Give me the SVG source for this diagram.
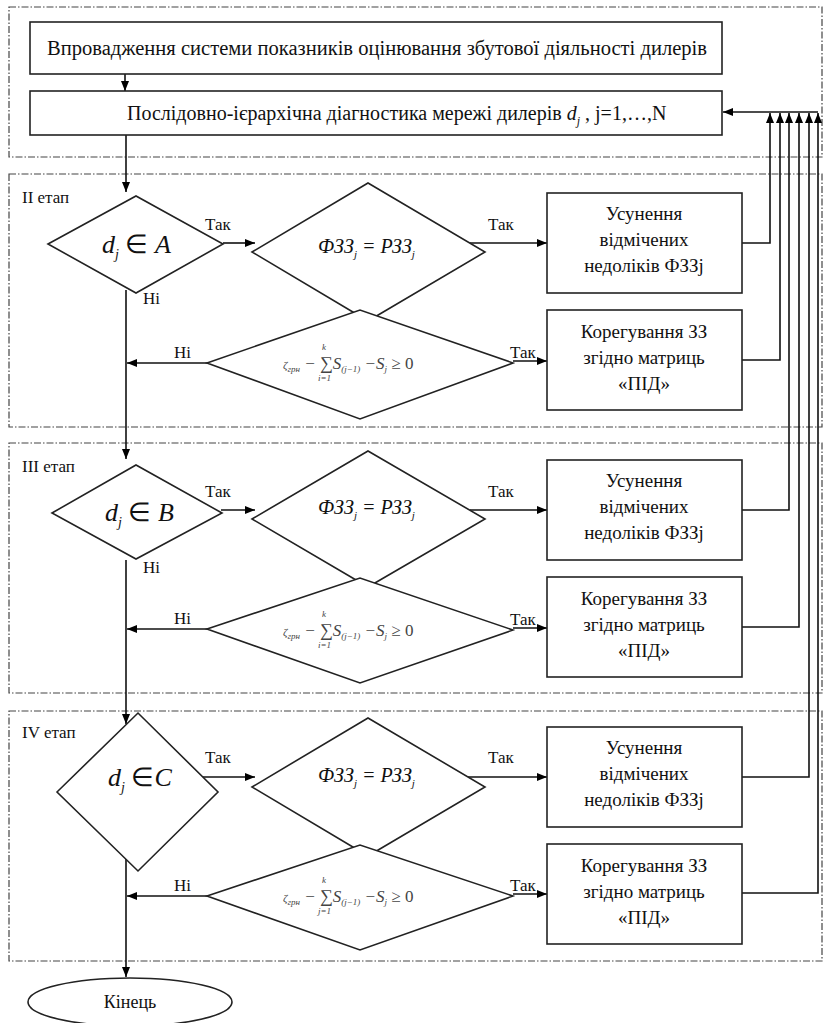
<svg xmlns="http://www.w3.org/2000/svg" width="825" height="1023" viewBox="0 0 825 1023" font-family="'Liberation Serif', 'Times New Roman', serif">
<defs>
<marker id="ah" markerUnits="userSpaceOnUse" markerWidth="10" markerHeight="8" refX="10" refY="4" orient="auto">
<path d="M0,0 L10,4 L0,8 z" fill="#000"/>
</marker>
<style>
.stage{fill:none;stroke:#444;stroke-width:1.2;stroke-dasharray:7,2,1.5,2}
.box{fill:#fff;stroke:#222;stroke-width:1.6}
.dia{fill:#fff;stroke:#222;stroke-width:1.6}
.arr{fill:none;stroke:#111;stroke-width:1.6;marker-end:url(#ah)}
text{font-family:'Liberation Serif','Times New Roman',serif;fill:#111}
.t{font-size:20px}
.bt{font-size:19px;text-anchor:middle}
.lbl{font-size:17px}
.it{font-style:italic}
.f{font-size:17px;font-style:italic;fill:#444}
.fs{font-size:9px;font-style:italic;fill:#444}
</style>
</defs>
<rect width="825" height="1023" fill="#fff"/>

<g id="stages">
<rect class="stage" x="9" y="7" width="813" height="150"/>
<rect class="stage" x="9" y="174" width="813" height="253"/>
<rect class="stage" x="9" y="443" width="813" height="250"/>
<rect class="stage" x="9" y="711" width="813" height="250"/>
<text class="lbl" x="22" y="203">II етап</text>
<text class="lbl" x="22" y="472">III етап</text>
<text class="lbl" x="22" y="738">IV етап</text>
</g>

<g id="connectors">
<path class="arr" d="M125,74 V91"/>
<path class="arr" d="M126,135 V192"/>
<path class="arr" d="M126,290 V459"/>
<path class="arr" d="M126,560 V724"/>
<path class="arr" d="M126,859 V977"/>
<path class="arr" d="M223,243 H255"/>
<path class="arr" d="M470,243 H547"/>
<path class="arr" d="M363,296 V309"/>
<path class="arr" d="M513,361 H547"/>
<path class="arr" d="M207,363 H127"/>
<path class="arr" d="M221,510 H255"/>
<path class="arr" d="M470,510 H547"/>
<path class="arr" d="M363,558 V577"/>
<path class="arr" d="M513,628 H547"/>
<path class="arr" d="M207,629 H127"/>
<path class="arr" d="M203,777 H255"/>
<path class="arr" d="M468,777 H547"/>
<path class="arr" d="M363,828 V844"/>
<path class="arr" d="M513,894 H547"/>
<path class="arr" d="M207,896 H127"/>
<path class="arr" d="M742,243 H770 V113"/>
<path class="arr" d="M742,360 H780 V113"/>
<path class="arr" d="M742,510 H789 V113"/>
<path class="arr" d="M742,627 H799 V113"/>
<path class="arr" d="M742,777 H809 V113"/>
<path class="arr" d="M742,893 H818 V113"/>
<path class="arr" d="M818,112 H723"/>
<text class="lbl" x="205" y="230">Так</text>
<text class="lbl" x="488" y="230">Так</text>
<text class="lbl" x="143" y="304">Ні</text>
<text class="lbl" x="174" y="358">Ні</text>
<text class="lbl" x="510" y="358">Так</text>
<text class="lbl" x="205" y="497">Так</text>
<text class="lbl" x="488" y="497">Так</text>
<text class="lbl" x="143" y="573">Ні</text>
<text class="lbl" x="174" y="624">Ні</text>
<text class="lbl" x="510" y="625">Так</text>
<text class="lbl" x="205" y="763">Так</text>
<text class="lbl" x="488" y="763">Так</text>
<text class="lbl" x="174" y="891">Ні</text>
<text class="lbl" x="510" y="891">Так</text>
</g>

<g id="n-start">
<rect class="box" x="30" y="22" width="692" height="52"/>
<text class="t" x="47" y="55" textLength="660" lengthAdjust="spacingAndGlyphs">Впровадження системи показників оцінювання збутової діяльності дилерів</text>
</g>
<g id="n-diag">
<rect class="box" x="30" y="91" width="692" height="44"/>
<text class="t" x="127" y="120">Послідовно-ієрархічна діагностика мережі дилерів <tspan class="it">d</tspan><tspan font-size="12" dy="5" class="it">j</tspan><tspan dy="-5"> , j=1,…,N</tspan></text>
</g>

<g id="n2-dA">
<polygon class="dia" points="48,244 136,196 223,244 136,293"/>
<text x="102" y="253" font-size="26" class="it">d<tspan font-size="14" dy="6">j</tspan><tspan dy="-6" font-style="normal"> ∈ </tspan>A</text>
</g>
<g id="n2-eq">
<polygon class="dia" points="252,252 368,183 485,252 368,321"/>
<text x="318" y="253" font-size="20" class="it">ФЗЗ<tspan font-size="11" dy="5">j</tspan><tspan dy="-5"> = РЗЗ</tspan><tspan font-size="11" dy="5">j</tspan></text>
</g>
<g id="n2-cond">
<polygon class="dia" points="207,363 360,310 513,363 360,419"/>
<text class="f" x="283" y="369"><tspan font-size="11">ζ</tspan><tspan class="fs" dy="3">грн</tspan><tspan dy="-3"> − </tspan><tspan font-size="18" font-style="normal">∑</tspan>S<tspan class="fs" dy="3">(j−1)</tspan><tspan dy="-3"> −S</tspan><tspan class="fs" dy="3">j</tspan><tspan dy="-3" font-style="normal"> ≥ 0</tspan></text>
<text class="fs" x="322" y="350">k</text>
<text class="fs" x="318" y="381">i=1</text>
</g>
<g id="n2-fix">
<rect class="box" x="547" y="193" width="195" height="100"/>
<text class="bt" x="644" y="220">Усунення</text>
<text class="bt" x="644" y="246">відмічених</text>
<text class="bt" x="644" y="272">недоліків ФЗЗj</text>
</g>
<g id="n2-corr">
<rect class="box" x="547" y="310" width="195" height="100"/>
<text class="bt" x="644" y="338">Корегування ЗЗ</text>
<text class="bt" x="644" y="364">згідно матриць</text>
<text class="bt" x="644" y="390">«ПІД»</text>
</g>

<g id="n3-dB">
<polygon class="dia" points="52,513 136,465 222,513 136,559"/>
<text x="105" y="521" font-size="26" class="it">d<tspan font-size="14" dy="6">j</tspan><tspan dy="-6" font-style="normal"> ∈ </tspan>B</text>
</g>
<g id="n3-eq">
<polygon class="dia" points="252,519 368,451 485,519 368,587"/>
<text x="318" y="514" font-size="20" class="it">ФЗЗ<tspan font-size="11" dy="5">j</tspan><tspan dy="-5"> = РЗЗ</tspan><tspan font-size="11" dy="5">j</tspan></text>
</g>
<g id="n3-cond">
<polygon class="dia" points="207,629 360,578 513,630 360,683"/>
<text class="f" x="283" y="636"><tspan font-size="11">ζ</tspan><tspan class="fs" dy="3">грн</tspan><tspan dy="-3"> − </tspan><tspan font-size="18" font-style="normal">∑</tspan>S<tspan class="fs" dy="3">(j−1)</tspan><tspan dy="-3"> −S</tspan><tspan class="fs" dy="3">j</tspan><tspan dy="-3" font-style="normal"> ≥ 0</tspan></text>
<text class="fs" x="322" y="617">k</text>
<text class="fs" x="318" y="648">i=1</text>
</g>
<g id="n3-fix">
<rect class="box" x="547" y="460" width="195" height="100"/>
<text class="bt" x="644" y="487">Усунення</text>
<text class="bt" x="644" y="513">відмічених</text>
<text class="bt" x="644" y="539">недоліків ФЗЗj</text>
</g>
<g id="n3-corr">
<rect class="box" x="547" y="577" width="195" height="100"/>
<text class="bt" x="644" y="605">Корегування ЗЗ</text>
<text class="bt" x="644" y="631">згідно матриць</text>
<text class="bt" x="644" y="657">«ПІД»</text>
</g>

<g id="n4-dC">
<polygon class="dia" points="57,792 138,713 218,792 138,871"/>
<text x="108" y="786" font-size="26" class="it">d<tspan font-size="14" dy="6">j</tspan><tspan dy="-6" font-style="normal"> ∈</tspan>C</text>
</g>
<g id="n4-eq">
<polygon class="dia" points="252,787 368,718 485,787 368,856"/>
<text x="318" y="782" font-size="20" class="it">ФЗЗ<tspan font-size="11" dy="5">j</tspan><tspan dy="-5"> = РЗЗ</tspan><tspan font-size="11" dy="5">j</tspan></text>
</g>
<g id="n4-cond">
<polygon class="dia" points="207,896 360,845 513,896 360,950"/>
<text class="f" x="283" y="902"><tspan font-size="11">ζ</tspan><tspan class="fs" dy="3">грн</tspan><tspan dy="-3"> − </tspan><tspan font-size="18" font-style="normal">∑</tspan>S<tspan class="fs" dy="3">(j−1)</tspan><tspan dy="-3"> −S</tspan><tspan class="fs" dy="3">j</tspan><tspan dy="-3" font-style="normal"> ≥ 0</tspan></text>
<text class="fs" x="322" y="883">k</text>
<text class="fs" x="318" y="914">j=1</text>
</g>
<g id="n4-fix">
<rect class="box" x="547" y="727" width="195" height="100"/>
<text class="bt" x="644" y="754">Усунення</text>
<text class="bt" x="644" y="780">відмічених</text>
<text class="bt" x="644" y="806">недоліків ФЗЗj</text>
</g>
<g id="n4-corr">
<rect class="box" x="547" y="844" width="195" height="100"/>
<text class="bt" x="644" y="872">Корегування ЗЗ</text>
<text class="bt" x="644" y="898">згідно матриць</text>
<text class="bt" x="644" y="924">«ПІД»</text>
</g>

<g id="n-end">
<ellipse cx="130" cy="1002" rx="102" ry="24" fill="#fff" stroke="#222" stroke-width="1.6"/>
<text x="130" y="1008" font-size="18" text-anchor="middle">Кінець</text>
</g>
</svg>
